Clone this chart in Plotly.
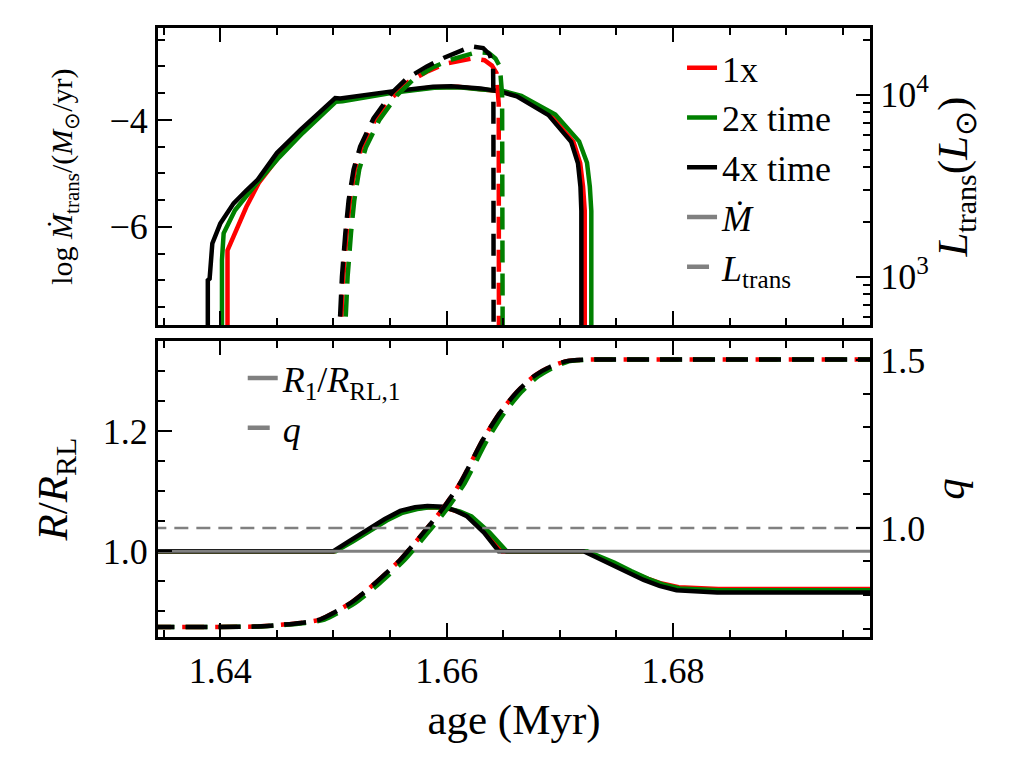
import plotly.graph_objects as go

# ---- top panel: mass transfer rate (left, log Msun/yr) ----
mdot_1x_age = [1.64064, 1.64064, 1.64230, 1.64340, 1.64520, 1.64720, 1.65010, 1.65070, 1.65510,
               1.65880, 1.66100, 1.66300, 1.66490, 1.66640, 1.66920, 1.67120, 1.67180, 1.67205,
               1.67220, 1.67220]
mdot_1x = [-8.5, -6.44, -5.63, -5.18, -4.68, -4.22, -3.64, -3.63, -3.48,
           -3.39, -3.38, -3.42, -3.47, -3.56, -3.91, -4.41, -4.81, -5.25, -5.70, -8.5]

mdot_2x_age = [1.64015, 1.64015, 1.64030, 1.64130, 1.64320, 1.64520, 1.64730, 1.65020, 1.65080, 1.65520,
               1.65890, 1.66110, 1.66310, 1.66500, 1.66660, 1.66960, 1.67170, 1.67240, 1.67265,
               1.67278, 1.67278]
mdot_2x = [-8.5, -6.62, -6.12, -5.69, -5.19, -4.70, -4.24, -3.66, -3.65, -3.49,
           -3.40, -3.39, -3.43, -3.46, -3.55, -3.90, -4.40, -4.80, -5.25, -5.70, -8.5]

mdot_4x_age = [1.63890, 1.63890, 1.63906, 1.63930, 1.64000, 1.64118, 1.64230, 1.64330, 1.64500,
               1.64706, 1.65015, 1.65060, 1.65500, 1.65880, 1.66040, 1.66300, 1.66473, 1.66620,
               1.66900, 1.67100, 1.67160, 1.67182, 1.67190, 1.67190]
mdot_4x = [-8.5, -7.0, -6.97, -6.31, -5.94, -5.56, -5.32, -5.12, -4.62,
           -4.19, -3.59, -3.60, -3.47, -3.38, -3.37, -3.41, -3.47, -3.56,
           -3.91, -4.41, -4.81, -5.25, -5.70, -8.5]

ltr_1x_age = [1.65057, 1.65087, 1.65117, 1.65146, 1.65190, 1.65248, 1.65366, 1.65527, 1.65660,
              1.65837, 1.65984, 1.66131, 1.66234, 1.66334, 1.66400, 1.66440, 1.66460, 1.66462]
ltr_1x_log = [2.60, 3.00, 3.24, 3.42, 3.59, 3.71, 3.86, 3.99, 4.07,
              4.13, 4.17, 4.19, 4.20, 4.19, 4.16, 4.12, 3.95, 2.60]

ltr_2x_age = [1.65095, 1.65125, 1.65155, 1.65184, 1.65228, 1.65286, 1.65404, 1.65565, 1.65698,
              1.65875, 1.66022, 1.66169, 1.66272, 1.66372, 1.66431, 1.66470, 1.66490, 1.66495]
ltr_2x_log = [2.60, 3.00, 3.24, 3.42, 3.59, 3.71, 3.86, 4.00, 4.08,
              4.15, 4.19, 4.22, 4.235, 4.23, 4.20, 4.156, 4.00, 2.60]

ltr_4x_age = [1.65045, 1.65075, 1.65105, 1.65134, 1.65178, 1.65236, 1.65354, 1.65515, 1.65648,
              1.65825, 1.65972, 1.66119, 1.66222, 1.66322, 1.66381, 1.66410, 1.66413, 1.66415]
ltr_4x_log = [2.60, 3.00, 3.24, 3.42, 3.59, 3.716, 3.87, 4.01, 4.09,
              4.156, 4.202, 4.238, 4.266, 4.257, 4.22, 4.156, 3.99, 2.60]

# ---- bottom panel: R/R_RL (left) ----
rrl_1x_age = [1.6340, 1.6501, 1.6516, 1.6531, 1.6546, 1.6560, 1.6573, 1.6584, 1.6599, 1.6610,
              1.6620, 1.6635, 1.6649, 1.6722, 1.6734, 1.6746, 1.6761, 1.6776, 1.6790, 1.6805,
              1.6840, 1.6980]
rrl_1x = [1.000, 1.000, 1.017, 1.035, 1.052, 1.065, 1.071, 1.073, 1.072, 1.066,
          1.057, 1.030, 1.000, 1.000, 0.991, 0.981, 0.967, 0.955, 0.946, 0.940,
          0.937, 0.937]

rrl_2x_age = [1.6340, 1.6502, 1.6517, 1.6532, 1.6547, 1.6561, 1.6574, 1.6585, 1.6600, 1.6612,
              1.6622, 1.6638, 1.6653, 1.6724, 1.6736, 1.6748, 1.6763, 1.6778, 1.6792, 1.6806,
              1.6840, 1.6980]
rrl_2x = [1.000, 1.000, 1.016, 1.034, 1.051, 1.064, 1.070, 1.073, 1.072, 1.066,
          1.058, 1.031, 1.000, 1.000, 0.991, 0.981, 0.967, 0.954, 0.944, 0.938,
          0.935, 0.935]

rrl_4x_age = [1.6340, 1.6500, 1.6515, 1.6530, 1.6545, 1.6559, 1.6572, 1.6583, 1.6597, 1.6608,
              1.6618, 1.6633, 1.6646, 1.6721, 1.6732, 1.6744, 1.6759, 1.6774, 1.6788, 1.6803,
              1.6839, 1.6980]
rrl_4x = [1.000, 1.000, 1.018, 1.036, 1.053, 1.067, 1.073, 1.075, 1.074, 1.067,
          1.058, 1.031, 1.000, 1.000, 0.990, 0.979, 0.965, 0.952, 0.942, 0.935,
          0.931, 0.931]

# ---- bottom panel: mass ratio q (right) ----
q_1x_age = [1.6337, 1.6430, 1.6456, 1.6471, 1.6488, 1.6515, 1.6537, 1.6559, 1.6578, 1.6596,
            1.6612, 1.6632, 1.6647, 1.6662, 1.6677, 1.6692, 1.6706, 1.6720, 1.6736, 1.6980]
q_1x = [0.705, 0.706, 0.712, 0.717, 0.727, 0.776, 0.836, 0.905, 0.980, 1.055,
        1.134, 1.263, 1.343, 1.405, 1.452, 1.481, 1.497, 1.501, 1.502, 1.502]

q_2x_age = [1.6340, 1.6434, 1.6460, 1.6475, 1.6492, 1.6519, 1.6541, 1.6563, 1.6582, 1.6600,
            1.6616, 1.6636, 1.6651, 1.6666, 1.6681, 1.6696, 1.6709, 1.6723, 1.6739, 1.6980]
q_2x = [0.705, 0.706, 0.712, 0.717, 0.727, 0.776, 0.836, 0.905, 0.980, 1.055,
        1.134, 1.263, 1.343, 1.405, 1.452, 1.481, 1.497, 1.501, 1.502, 1.502]

q_4x_age = [1.6340, 1.6430, 1.6456, 1.6471, 1.6488, 1.6515, 1.6537, 1.6559, 1.6578, 1.6596,
            1.6612, 1.6632, 1.6647, 1.6662, 1.6677, 1.6692, 1.6706, 1.6720, 1.6736, 1.6980]
q_4x = [0.705, 0.706, 0.712, 0.717, 0.727, 0.776, 0.836, 0.905, 0.980, 1.055,
        1.134, 1.263, 1.343, 1.405, 1.452, 1.481, 1.497, 1.501, 1.502, 1.502]

age_span = [1.6340, 1.6980]
runs = ["1x", "2x time", "4x time"]
colors = ["red", "green", "black"]

FONT = "Liberation Serif"
LW = 4.5
DASH = "22px,11px"

fig = go.Figure()

mdot_x = [mdot_1x_age, mdot_2x_age, mdot_4x_age]
mdot_y = [mdot_1x, mdot_2x, mdot_4x]
ltr_x = [ltr_1x_age, ltr_2x_age, ltr_4x_age]
ltr_y = [[10 ** v for v in ltr_1x_log], [10 ** v for v in ltr_2x_log], [10 ** v for v in ltr_4x_log]]
rrl_x = [rrl_1x_age, rrl_2x_age, rrl_4x_age]
rrl_y = [rrl_1x, rrl_2x, rrl_4x]
q_x = [q_1x_age, q_2x_age, q_4x_age]
q_y = [q_1x, q_2x, q_4x]

# top, left axis
for i in range(3):
    fig.add_trace(go.Scatter(x=mdot_x[i], y=mdot_y[i], mode="lines", name=runs[i],
                             line=dict(color=colors[i], width=LW),
                             xaxis="x", yaxis="y", legend="legend"))
fig.add_trace(go.Scatter(x=[None], y=[None], mode="lines", name="<i>Ṁ</i>",
                         line=dict(color="gray", width=LW), xaxis="x", yaxis="y", legend="legend"))
fig.add_trace(go.Scatter(x=[None], y=[None], mode="lines", name="<i>L</i><sub>trans</sub>",
                         line=dict(color="gray", width=LW, dash=DASH), xaxis="x", yaxis="y",
                         legend="legend"))
# top, right axis
for i in range(3):
    fig.add_trace(go.Scatter(x=ltr_x[i], y=ltr_y[i], mode="lines", showlegend=False,
                             line=dict(color=colors[i], width=LW, dash=DASH),
                             xaxis="x", yaxis="y2"))

# bottom, left axis
for i in range(3):
    fig.add_trace(go.Scatter(x=rrl_x[i], y=rrl_y[i], mode="lines", showlegend=False,
                             line=dict(color=colors[i], width=LW),
                             xaxis="x2", yaxis="y3"))
fig.add_trace(go.Scatter(x=age_span, y=[1.0, 1.0], mode="lines", showlegend=False,
                         line=dict(color="gray", width=3), xaxis="x2", yaxis="y3"))
fig.add_trace(go.Scatter(x=[None], y=[None], mode="lines",
                         name="<i>R</i><sub>1</sub>/<i>R</i><sub>RL,1</sub>",
                         line=dict(color="gray", width=LW), xaxis="x2", yaxis="y3", legend="legend2"))
fig.add_trace(go.Scatter(x=[None], y=[None], mode="lines", name="<i>q</i>",
                         line=dict(color="gray", width=LW, dash=DASH), xaxis="x2", yaxis="y3",
                         legend="legend2"))
# bottom, right axis
for i in range(3):
    fig.add_trace(go.Scatter(x=q_x[i], y=q_y[i], mode="lines", showlegend=False,
                             line=dict(color=colors[i], width=LW, dash=DASH, shape="spline",
                                       smoothing=0.6),
                             xaxis="x2", yaxis="y4"))
fig.add_trace(go.Scatter(x=age_span, y=[1.0, 1.0], mode="lines", showlegend=False,
                         line=dict(color="gray", width=2.5, dash="14px,8px"), xaxis="x2", yaxis="y4"))

tick = dict(ticks="inside", ticklen=14, tickwidth=2, tickcolor="black",
            showline=True, linewidth=3, linecolor="black", showgrid=False, zeroline=False,
            tickfont=dict(size=36))
minor = dict(ticks="inside", ticklen=7, tickwidth=2, tickcolor="black", showgrid=False)

xr = [1.6345, 1.6974]
fig.update_layout(
    width=1003, height=769,
    margin=dict(l=150, r=141, t=20, b=140),
    paper_bgcolor="white", plot_bgcolor="white",
    font=dict(family=FONT, size=36, color="black"),
    xaxis=dict(domain=[0, 1], anchor="y", range=xr, dtick=0.02, tick0=1.64,
               minor=dict(minor, dtick=0.005), mirror="ticks", showticklabels=False, **tick),
    xaxis2=dict(domain=[0, 1], anchor="y3", range=xr, dtick=0.02, tick0=1.64, matches="x",
                minor=dict(minor, dtick=0.005), mirror="ticks",
                title=dict(text="age (Myr)", standoff=14), **tick),
    yaxis=dict(domain=[0.512, 1], anchor="x", range=[-7.84, -2.28], dtick=2, tick0=0,
               minor=dict(minor, dtick=0.5),
               title=dict(text="log <i>Ṁ</i><sub>trans</sub>/(<i>M</i><sub>⊙</sub>/yr)",
                          font=dict(size=30), standoff=28), **tick),
    yaxis2=dict(anchor="x", overlaying="y", side="right", type="log", range=[2.734, 4.367],
                tickvals=[1000, 10000], ticktext=["10<sup>3</sup>", "10<sup>4</sup>"],
                minor=dict(minor, tickvals=[600, 700, 800, 900, 2000, 3000, 4000, 5000,
                                            6000, 7000, 8000, 9000, 20000]),
                title=dict(text="<i>L</i><sub>trans</sub>(<i>L</i><sub>⊙</sub>)", standoff=4), **tick),
    yaxis3=dict(domain=[0, 0.486], anchor="x2", range=[0.857, 1.35], dtick=0.2, tick0=0,
                tickformat=".1f", minor=dict(minor, dtick=0.05),
                title=dict(text="<i>R</i>/<i>R</i><sub>RL</sub>", standoff=22), **tick),
    yaxis4=dict(anchor="x2", overlaying="y3", side="right", range=[0.675, 1.557], dtick=0.5,
                tick0=0, tickformat=".1f", minor=dict(minor, dtick=0.1),
                title=dict(text="<i>q</i>", standoff=10), **tick),
    legend=dict(x=0.736, y=0.984, xanchor="left", yanchor="top", bgcolor="rgba(0,0,0,0)",
                font=dict(size=36)),
    legend2=dict(x=0.119, y=0.4745, xanchor="left", yanchor="top", bgcolor="rgba(0,0,0,0)",
                 font=dict(size=36)),
)

fig.write_html("out.html")
